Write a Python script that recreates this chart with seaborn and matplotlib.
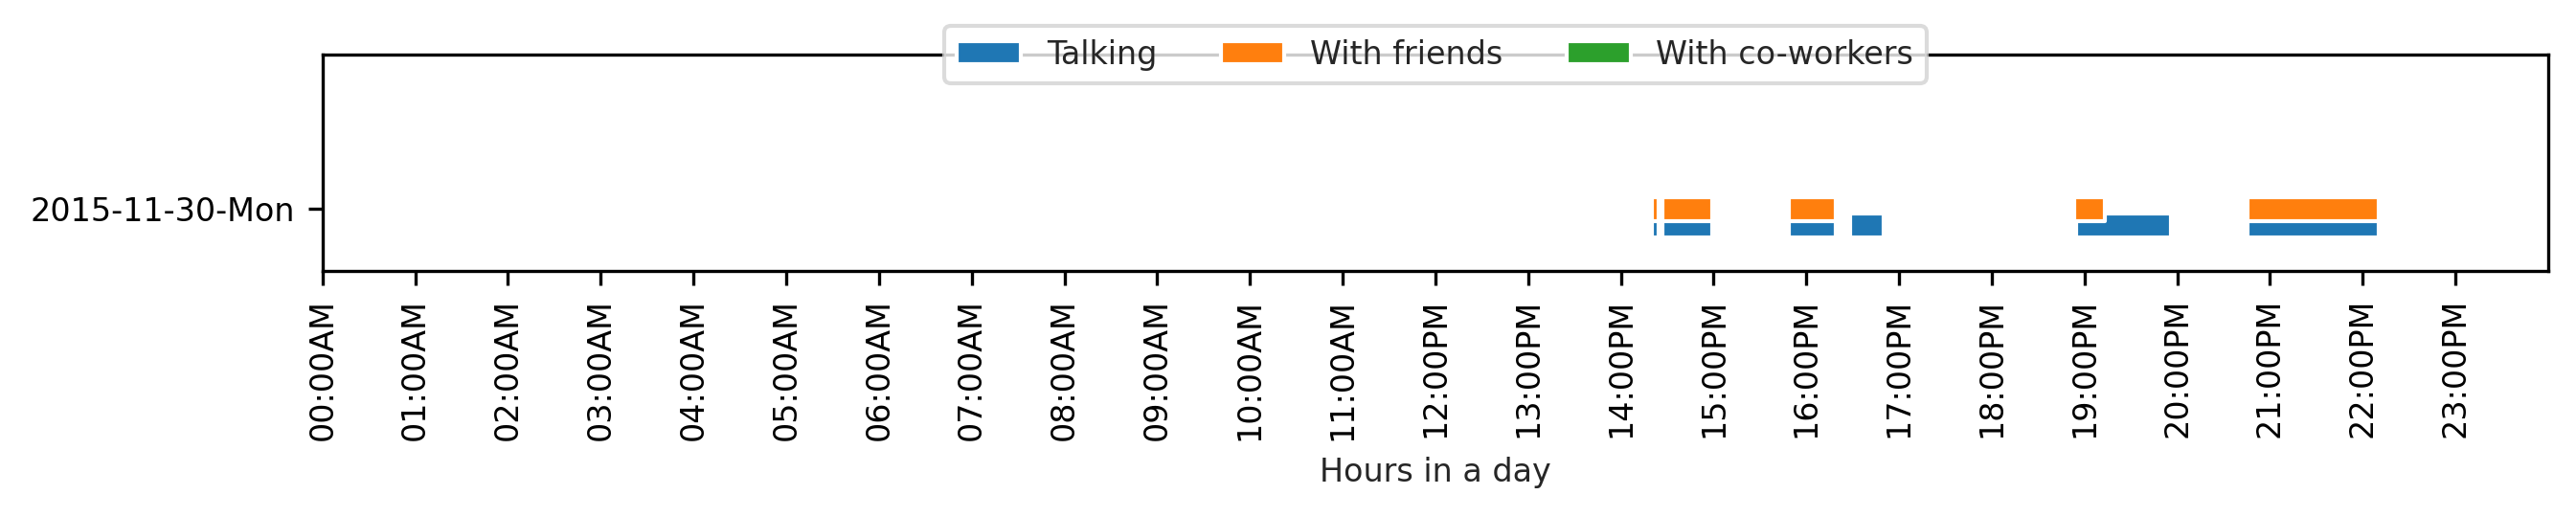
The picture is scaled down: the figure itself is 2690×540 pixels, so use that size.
import matplotlib
matplotlib.use('Agg')

import matplotlib.pyplot as plt
import seaborn as sns
from matplotlib.patches import Patch

# ── Data (hours of day, start / duration) ────────────────────────────────────
day_label = "2015-11-30-Mon"
activities = ["Talking", "With friends", "With co-workers"]

talking_start = [14.33, 14.45, 15.81, 16.47, 18.91, 20.76]
talking_dur   = [0.08, 0.54, 0.51, 0.36, 1.02, 1.41]

friends_start = [14.33, 14.45, 15.81, 18.89, 20.76]
friends_dur   = [0.08, 0.54, 0.51, 0.33, 1.41]

coworkers_start = []
coworkers_dur   = []

hours = list(range(24))
hour_labels = [f"{h:02d}:00{'AM' if h < 12 else 'PM'}" for h in hours]

# ── Style ────────────────────────────────────────────────────────────────────
sns.set_style("ticks")
plt.rcParams.update({"font.size": 8, "font.family": ["DejaVu Sans"]})
colors = sns.color_palette("tab10", 3)

fig = plt.figure(figsize=(2690 / 300, 540 / 300), dpi=300)
ax = fig.add_axes([0.1252, 0.4765, 0.9892 - 0.1252, 0.8939 - 0.4765])

# each series gets its own vertical band around the day row
bands = [(-0.30, 0.25), (-0.13, 0.25), (0.04, 0.25)]
series = [(talking_start, talking_dur), (friends_start, friends_dur),
          (coworkers_start, coworkers_dur)]
for (starts, durs), band, col in zip(series, bands, colors):
    if starts:
        ax.broken_barh(list(zip(starts, durs)), band, facecolors=col)

ax.set_xlim(0, 24)
ax.set_ylim(-0.65, 1.6)
ax.set_yticks([0])
ax.set_yticklabels([day_label])
ax.set_xticks(hours)
ax.set_xticklabels(hour_labels, rotation=90)
ax.set_xlabel("Hours in a day")
for s in ax.spines.values():
    s.set_color("black")
    s.set_linewidth(0.8)
ax.tick_params(colors="black", length=3.5, width=0.8)

handles = [Patch(facecolor=c, label=a) for c, a in zip(colors, activities)]
ax.legend(handles=handles, loc="center", bbox_to_anchor=(0.5, 1.0), ncol=3,
          frameon=True, edgecolor="lightgray", framealpha=0.8, facecolor="white")

fig.savefig("out.png", dpi=300)
